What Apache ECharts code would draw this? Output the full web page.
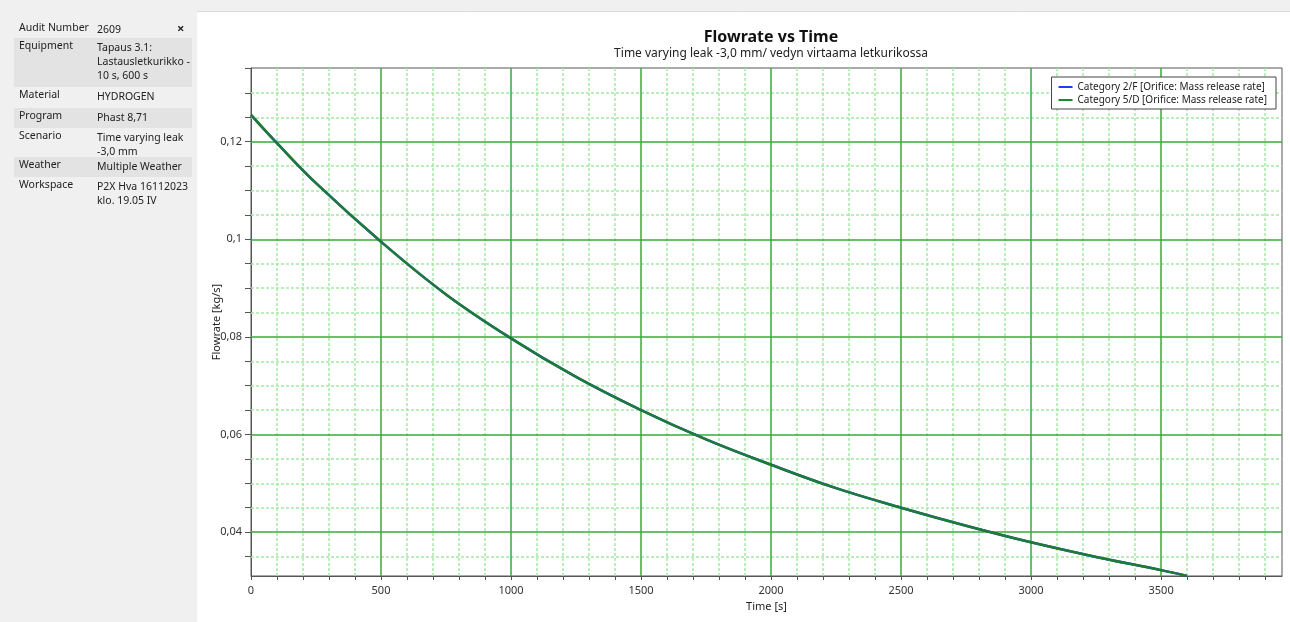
<!DOCTYPE html>
<html>
<head>
<meta charset="utf-8">
<script src="https://cdn.jsdelivr.net/npm/echarts@6/dist/echarts.min.js"></script>
<style>
html,body{margin:0;padding:0;background:#ffffff;}
#chart{width:1290px;height:622px;}
</style>
</head>
<body>
<div id="chart"></div>
<script>
// ---- data ----
var times = [0, 100, 250, 500, 750, 1000, 1250, 1500, 1750, 2000, 2250, 2500, 2750, 3000, 3250, 3500, 3600];
var flowCat2F = [0.1255, 0.1197, 0.1115, 0.0995, 0.0887, 0.0797, 0.0718, 0.0650, 0.0590, 0.0538, 0.0490, 0.0450, 0.0413, 0.0379, 0.0349, 0.0322, 0.0310];
var flowCat5D = [0.1255, 0.1197, 0.1115, 0.0995, 0.0887, 0.0797, 0.0718, 0.0650, 0.0590, 0.0538, 0.0490, 0.0450, 0.0413, 0.0379, 0.0349, 0.0322, 0.0310];
var seriesNames = ['Category 2/F [Orifice: Mass release rate]', 'Category 5/D [Orifice: Mass release rate]'];
var xLabels = [0, 500, 1000, 1500, 2000, 2500, 3000, 3500];
var yLabels = [0.04, 0.06, 0.08, 0.1, 0.12];
var panelLabels = ['Audit Number', 'Equipment', 'Material', 'Program', 'Scenario', 'Weather', 'Workspace'];
var panelValues = [['2609'], ['Tapaus 3.1:', 'Lastausletkurikko -', '10 s, 600 s'], ['HYDROGEN'], ['Phast 8,71'], ['Time varying leak', '-3,0 mm'], ['Multiple Weather'], ['P2X Hva 16112023', 'klo. 19.05 IV']];
var titleText = 'Flowrate vs Time';
var subtitleText = 'Time varying leak -3,0 mm/ vedyn virtaama letkurikossa';

var FONT = '"Noto Sans", "Open Sans", sans-serif';
var X_MIN = 0, X_MAX = 3965, Y_MIN = 0.031, Y_MAX = 0.1351;

function zip(xs, ys) { return xs.map(function (x, i) { return [x, ys[i]]; }); }

// tick positions
var xTicks = [];
for (var t = 0; t <= 3900; t += 100) xTicks.push(t);
var yTicks = [];
for (var k = 7; k <= 27; k++) yTicks.push(+(k * 0.005).toFixed(3));

// grid lines (major / minor) as line segments in data space
var majorLines = [], minorLines = [];
xTicks.forEach(function (v) {
  if (v === 0) return;
  var seg = { coords: [[v, Y_MIN], [v, Y_MAX]] };
  if (v % 500 === 0) majorLines.push(seg); else minorLines.push(seg);
});
yTicks.forEach(function (v) {
  if (v >= 0.1349) return;
  var seg = { coords: [[X_MIN, v], [X_MAX, v]] };
  var isMajor = Math.abs(Math.round(v * 50) - v * 50) < 1e-6;
  if (isMajor) majorLines.push(seg); else minorLines.push(seg);
});

// left info panel graphics
var graphics = [
  { type: 'rect', shape: { x: 0, y: 0, width: 1290, height: 11 }, style: { fill: '#f0f0f0' }, silent: true },
  { type: 'line', shape: { x1: 197, y1: 11.5, x2: 1290, y2: 11.5 }, style: { stroke: '#dadada', lineWidth: 1 }, silent: true },
  { type: 'rect', shape: { x: 0, y: 0, width: 197, height: 622 }, style: { fill: '#f0f0f0' }, silent: true }
];
var rowTops = [20, 38, 87, 108, 128, 157, 177];
var rowBottoms = [38, 87, 108, 128, 157, 177, 222];
for (var r = 0; r < panelLabels.length; r++) {
  if (r % 2 === 1) {
    graphics.push({ type: 'rect', shape: { x: 14, y: rowTops[r], width: 178, height: rowBottoms[r] - rowTops[r] }, style: { fill: '#e3e3e3' }, silent: true });
  }
  graphics.push({ type: 'text', x: 19, y: rowTops[r] + 3, style: { text: panelLabels[r], fill: '#222', font: '10.5px ' + FONT }, silent: true });
  graphics.push({ type: 'text', x: 97, y: rowTops[r] + 3, style: { text: panelValues[r].join('\n'), fill: '#222', font: '10.5px ' + FONT, lineHeight: 14 }, silent: true });
}
graphics.push({ type: 'text', x: 177, y: 23, style: { text: '×', fill: '#222', font: 'bold 13px ' + FONT }, silent: true });

var chart = echarts.init(document.getElementById('chart'), null, { renderer: 'canvas' });
chart.setOption({
  animation: false,
  backgroundColor: '#ffffff',
  textStyle: { fontFamily: FONT },
  title: {
    text: titleText,
    subtext: subtitleText,
    left: 766,
    textAlign: 'center',
    top: 24,
    itemGap: 3,
    textStyle: { fontSize: 16, fontWeight: 'bold', color: '#111', fontFamily: FONT },
    subtextStyle: { fontSize: 12, color: '#222', fontFamily: FONT }
  },
  legend: {
    data: seriesNames,
    orient: 'vertical',
    right: 14,
    top: 77,
    padding: [5, 9, 4, 7],
    itemGap: 3,
    itemWidth: 14,
    itemHeight: 2,
    icon: 'rect',
    borderColor: '#444',
    borderWidth: 1,
    backgroundColor: '#fff',
    textStyle: { fontSize: 10, color: '#222', fontFamily: FONT },
    selectedMode: false
  },
  grid: {
    left: 251, right: 8, top: 68, bottom: 46,
    show: true, borderColor: '#555', borderWidth: 1, backgroundColor: 'transparent',
    containLabel: false
  },
  xAxis: {
    type: 'value',
    min: X_MIN, max: X_MAX,
    name: 'Time [s]',
    nameLocation: 'middle',
    nameGap: 25,
    nameMoveOverlap: false,
    nameTextStyle: { fontSize: 11, color: '#222', fontFamily: FONT },
    axisLine: { lineStyle: { color: '#555', width: 1 } },
    axisTick: { show: true, length: 4, customValues: xTicks, lineStyle: { color: '#555' } },
    axisLabel: { customValues: xLabels, margin: 9, fontSize: 11, color: '#333', fontFamily: FONT,
      formatter: function (v) { return String(Math.round(v)); } },
    splitLine: { show: false },
    minorTick: { show: false },
    minorSplitLine: { show: false },
    splitArea: { show: false }
  },
  yAxis: {
    type: 'value',
    min: Y_MIN, max: Y_MAX,
    name: 'Flowrate [kg/s]',
    nameLocation: 'middle',
    nameGap: 29,
    nameMoveOverlap: false,
    nameTextStyle: { fontSize: 11, color: '#222', fontFamily: FONT },
    axisLine: { show: true, lineStyle: { color: '#555', width: 1 } },
    axisTick: { show: true, length: 6, customValues: yTicks, lineStyle: { color: '#555' } },
    axisLabel: {
      customValues: yLabels, margin: 9, fontSize: 11, color: '#333', fontFamily: FONT,
      formatter: function (v) { return String(parseFloat(v.toFixed(4))).replace('.', ','); }
    },
    splitLine: { show: false },
    minorTick: { show: false },
    minorSplitLine: { show: false },
    splitArea: { show: false }
  },
  graphic: graphics,
  series: [
    {
      name: 'minorGrid',
      type: 'lines',
      coordinateSystem: 'cartesian2d',
      silent: true,
      z: 1,
      symbol: ['none', 'none'],
      lineStyle: { color: '#a4e9a4', width: 1.5, type: [3, 2], opacity: 1 },
      data: minorLines
    },
    {
      name: 'majorGrid',
      type: 'lines',
      coordinateSystem: 'cartesian2d',
      silent: true,
      z: 2,
      symbol: ['none', 'none'],
      lineStyle: { color: '#3aa83a', width: 1.5, type: 'solid', opacity: 1 },
      data: majorLines
    },
    {
      name: seriesNames[0],
      type: 'line',
      data: zip(times, flowCat2F),
      smooth: 0.4,
      showSymbol: false,
      z: 3,
      color: '#1f3cff',
      lineStyle: { color: '#1f3cff', width: 2.5 }
    },
    {
      name: seriesNames[1],
      type: 'line',
      data: zip(times, flowCat5D),
      smooth: 0.4,
      showSymbol: false,
      z: 4,
      color: '#1a8a2e',
      lineStyle: { color: '#1e7b34', width: 2.5 }
    }
  ]
});
</script>
</body>
</html>
